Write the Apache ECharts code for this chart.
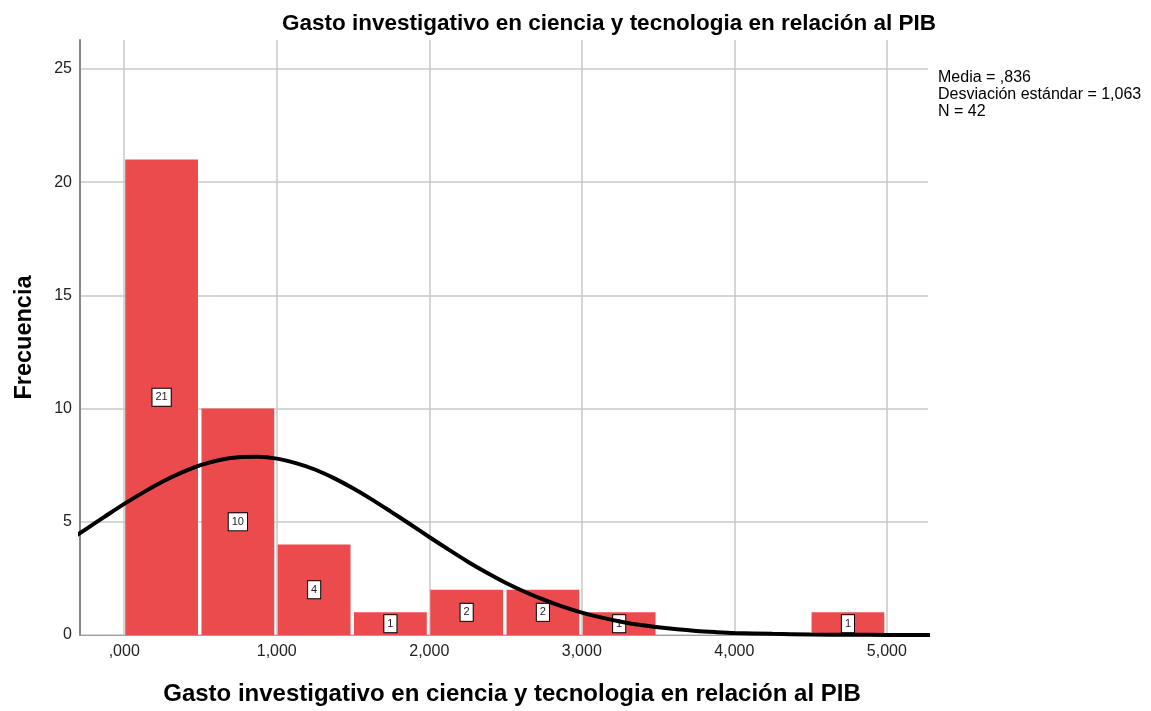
<!DOCTYPE html>
<html>
<head>
<meta charset="utf-8">
<script src="https://cdn.jsdelivr.net/npm/echarts@6/dist/echarts.min.js"></script>
<style>
  html, body { margin: 0; padding: 0; background: #fff; }
  #chart { width: 1151px; height: 711px; }
</style>
</head>
<body>
<div id="chart"></div>
<script>
// histogram bins (width 0,5) and counts
var binStart = [0, 0.5, 1, 1.5, 2, 2.5, 3, 4.5];
var binEnd = [0.5, 1, 1.5, 2, 2.5, 3, 3.5, 5];
var counts = [21, 10, 4, 1, 2, 2, 1, 1];

// normal curve
var curveX = [-0.5, -0.375, -0.25, -0.125, 0, 0.125, 0.25, 0.375, 0.5, 0.625, 0.75, 0.875, 1, 1.125, 1.25, 1.375, 1.5, 1.625, 1.75, 1.875,
  2, 2.125, 2.25, 2.375, 2.5, 2.625, 2.75, 2.875, 3, 3.125, 3.25, 3.375, 3.5, 3.625, 3.75, 3.875, 4, 4.25, 4.5, 4.75, 5, 5.25, 5.5];
var curveY = [3.58, 4.12, 4.68, 5.24, 5.79, 6.30, 6.77, 7.17, 7.50, 7.73, 7.85, 7.87, 7.79, 7.59, 7.31, 6.93, 6.48, 5.98, 5.44, 4.89,
  4.33, 3.78, 3.25, 2.76, 2.31, 1.91, 1.56, 1.25, 0.99, 0.78, 0.60, 0.45, 0.34, 0.25, 0.18, 0.13, 0.09, 0.05, 0.02, 0.01, 0.004, 0.002, 0.001];

var statsLines = ['Media = ,836', 'Desviación estándar = 1,063', 'N = 42'];
var titleText = 'Gasto investigativo en ciencia y tecnologia en relación al PIB';

var font = 'Liberation Sans, Arial, sans-serif';

var barData = binStart.map(function (s, i) { return [s, binEnd[i], counts[i]]; });
var lineData = curveX.map(function (x, i) { return [x, curveY[i]]; });

function fmtX(v) {
  var s = v.toFixed(3).replace('.', ',');
  if (s.indexOf('0,') === 0) s = s.slice(1);
  return s;
}

var chart = echarts.init(document.getElementById('chart'));
chart.setOption({
  animation: false,
  textStyle: { fontFamily: font },
  title: {
    text: titleText,
    left: 277,
    top: 7,
    textStyle: { fontSize: 22.5, fontWeight: 'bold', color: '#000', fontFamily: font }
  },
  grid: { left: 80, right: 223, top: 40, bottom: 75 },
  xAxis: {
    type: 'value',
    min: -0.29,
    max: 5.27,
    splitNumber: 5,
    name: titleText,
    nameLocation: 'middle',
    nameGap: 47,
    nameTextStyle: { fontSize: 24, fontWeight: 'bold', color: '#000', padding: [0, 0, 0, 16] },
    axisLine: { show: true, lineStyle: { color: '#a0a0a0', width: 1 } },
    axisTick: { show: false },
    axisLabel: {
      color: '#222', fontSize: 16, margin: 9,
      showMinLabel: false, showMaxLabel: false,
      formatter: fmtX
    },
    splitLine: { show: true, showMinLine: false, showMaxLine: false, lineStyle: { color: '#c8c8c8', width: 1.5 } }
  },
  yAxis: {
    type: 'value',
    min: 0,
    max: 26.28,
    interval: 5,
    name: 'Frecuencia',
    nameLocation: 'middle',
    nameGap: 43,
    nameTextStyle: { fontSize: 23.5, fontWeight: 'bold', color: '#000' },
    axisLine: { show: true, onZero: false, lineStyle: { color: '#888', width: 2 } },
    axisTick: { show: false },
    axisLabel: { color: '#222', fontSize: 16, margin: 8, showMaxLabel: false },
    splitLine: { show: true, showMaxLine: false, lineStyle: { color: '#c8c8c8', width: 1.5 } }
  },
  graphic: [{
    type: 'text',
    left: 938,
    top: 69,
    style: {
      text: statsLines.join('\n'),
      fontSize: 16,
      lineHeight: 17,
      fill: '#000',
      fontFamily: font
    }
  }],
  series: [{
    type: 'custom',
    data: barData,
    encode: { x: [0, 1], y: 2 },
    z: 2,
    renderItem: function (params, api) {
      var p0 = api.coord([api.value(0), api.value(2)]);
      var p1 = api.coord([api.value(1), 0]);
      return {
        type: 'rect',
        shape: { x: p0[0] + 1, y: p0[1], width: p1[0] - p0[0] - 3.5, height: p1[1] - p0[1] },
        style: { fill: '#EC4B4E' },
        textContent: {
          style: {
            text: String(api.value(2)),
            fill: '#222',
            fontSize: 11,
            fontFamily: font,
            backgroundColor: '#fff',
            borderColor: '#000',
            borderWidth: 1,
            padding: [3, 3]
          }
        },
        textConfig: { position: 'inside' }
      };
    }
  }, {
    type: 'line',
    data: lineData,
    smooth: 0.3,
    showSymbol: false,
    clip: true,
    z: 5,
    lineStyle: { color: '#000', width: 4 }
  }]
});
</script>
</body>
</html>
